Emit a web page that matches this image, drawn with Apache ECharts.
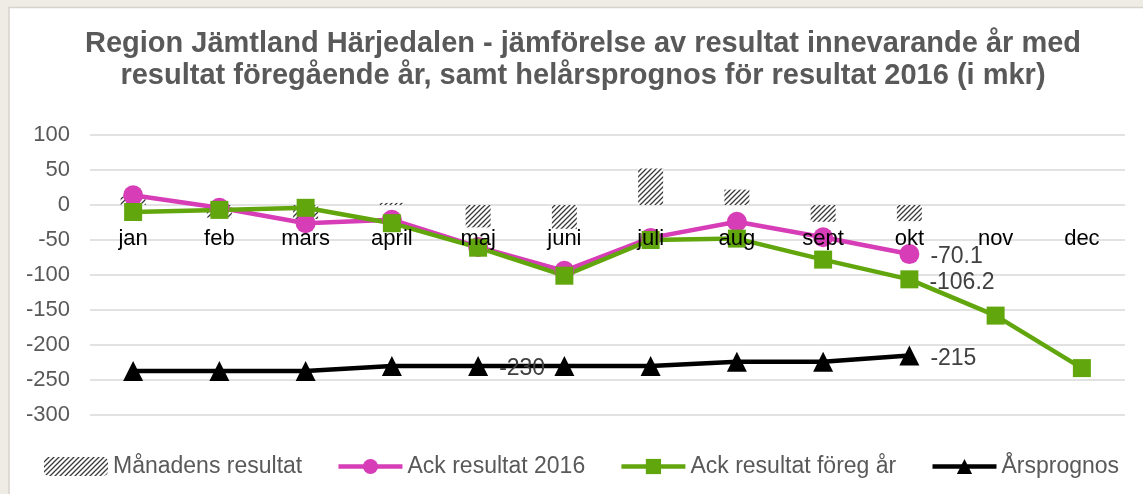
<!DOCTYPE html>
<html>
<head>
<meta charset="utf-8">
<script src="https://cdn.jsdelivr.net/npm/echarts@6/dist/echarts.min.js"></script>
<style>
  html, body { margin: 0; padding: 0; background: #efebe5; }
  #chart { width: 1143px; height: 494px; }
</style>
</head>
<body>
<div id="chart"></div>
<script>
// data
const months = ["jan", "feb", "mars", "april", "maj", "juni", "juli", "aug", "sept", "okt", "nov", "dec"];
const manadens = [12, -18, -20, 3, -32, -34, 52, 22, -24, -23, null, null];
const ack2016 = [14, -4, -26, -21, -60, -94, -47, -24, -46, -70.1, null, null];
const ackForeg = [-10, -7, -4, -26, -61, -101, -50, -48, -78, -106.2, -158, -233];
const arsprognos = [-237, -237, -237, -230, -230, -230, -230, -224, -224, -215, null, null];
// which points carry a value label
const labelAck2016 = [9];
const labelForeg = [9];
const labelPrognos = [4, 9];

// hatch pattern for the monthly bars
function hatch() {
  const c = document.createElement("canvas");
  c.width = 5; c.height = 5;
  const g = c.getContext("2d");
  g.fillStyle = "#ffffff";
  g.fillRect(0, 0, 5, 5);
  g.strokeStyle = "#3a3a3a";
  g.lineWidth = 1.3;
  g.beginPath();
  g.moveTo(-1, 6); g.lineTo(6, -1);
  g.moveTo(-1, 1); g.lineTo(1, -1);
  g.moveTo(4, 6); g.lineTo(6, 4);
  g.stroke();
  return c;
}
const hatchFill = { image: hatch(), repeat: "repeat" };

const labelStyle = { show: true, position: "right", distance: 11, offset: [0, 3], fontSize: 23, color: "#404040", fontFamily: "Liberation Sans" };
function withLabels(values, idx) {
  return values.map((v, i) => idx.includes(i) ? { value: v, label: labelStyle } : v);
}

const gridTop = 135, gridBottom = 79, yMin = -300, yMax = 100;
const plotH = 494 - gridTop - gridBottom;
// move the category axis up to the zero line
const zeroOffset = -plotH * (0 - yMin) / (yMax - yMin);

const chart = echarts.init(document.getElementById("chart"));
chart.setOption({
  animation: false,
  textStyle: { fontFamily: "Liberation Sans" },
  graphic: [{
    type: "rect", z: -10, silent: true,
    shape: { x: 9, y: 7.5, width: 1140, height: 495 },
    style: { fill: "#ffffff", stroke: "#d6d2cc", lineWidth: 1.5 }
  }],
  title: {
    text: "Region Jämtland Härjedalen - jämförelse av resultat innevarande år med\nresultat föregående år, samt helårsprognos för resultat 2016 (i mkr)",
    left: 578, top: 23, textAlign: "center",
    textStyle: { fontSize: 29, fontWeight: "bold", color: "#595959", lineHeight: 32, fontFamily: "Liberation Sans" }
  },
  legend: {
    bottom: 11, left: 39, itemGap: 34, itemWidth: 64, itemHeight: 19,
    lineStyle: { width: 4.5 },
    textStyle: { fontSize: 23, color: "#595959", fontFamily: "Liberation Sans" },
    data: ["Månadens resultat", "Ack resultat 2016", "Ack resultat föreg år", "Årsprognos"]
  },
  grid: { left: 90, right: 18, top: gridTop, bottom: gridBottom },
  xAxis: {
    type: "category", data: months, offset: zeroOffset, z: 20,
    axisLine: { show: false, onZero: false },
    axisTick: { show: false },
    axisLabel: { margin: 23, fontSize: 22, color: "#000000", fontFamily: "Liberation Sans" }
  },
  yAxis: {
    type: "value", min: yMin, max: yMax, interval: 50,
    axisLine: { show: false }, axisTick: { show: false },
    axisLabel: { margin: 20, fontSize: 22, color: "#595959", fontFamily: "Liberation Sans" },
    splitLine: { lineStyle: { color: "#d9d9d9", width: 1.5 } }
  },
  series: [
    {
      name: "Månadens resultat", type: "bar", data: manadens, barWidth: 25,
      itemStyle: { color: hatchFill }
    },
    {
      name: "Ack resultat 2016", type: "line", data: withLabels(ack2016, labelAck2016),
      symbol: "circle", symbolSize: 20,
      lineStyle: { color: "#d63db6", width: 4.5 }, itemStyle: { color: "#d63db6" }
    },
    {
      name: "Ack resultat föreg år", type: "line", data: withLabels(ackForeg, labelForeg),
      symbol: "rect", symbolSize: 18,
      lineStyle: { color: "#62a60e", width: 4.5 }, itemStyle: { color: "#62a60e" }
    },
    {
      name: "Årsprognos", type: "line", data: withLabels(arsprognos, labelPrognos),
      symbol: "triangle", symbolSize: [20, 20],
      lineStyle: { color: "#000000", width: 4.5 }, itemStyle: { color: "#000000" }
    }
  ]
});
</script>
</body>
</html>
